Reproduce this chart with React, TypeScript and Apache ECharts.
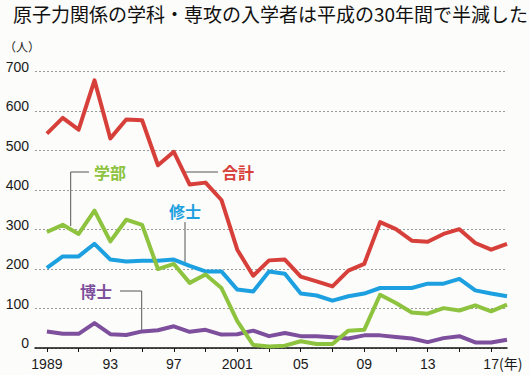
import React, { useEffect, useRef } from "react";
import * as echarts from "echarts";

const years = [1989, 1990, 1991, 1992, 1993, 1994, 1995, 1996, 1997, 1998, 1999, 2000, 2001, 2002, 2003, 2004, 2005, 2006, 2007, 2008, 2009, 2010, 2011, 2012, 2013, 2014, 2015, 2016, 2017, 2018];
const total = [543, 583, 553, 678, 531, 579, 577, 463, 497, 414, 419, 375, 249, 183, 222, 224, 181, 169, 156, 196, 213, 319, 301, 272, 269, 289, 301, 266, 249, 264];
const gakubu = [294, 312, 289, 348, 270, 325, 312, 200, 213, 165, 186, 152, 68, 8, 4, 6, 17, 10, 10, 44, 46, 135, 114, 90, 87, 101, 95, 108, 93, 110];
const shushi = [203, 232, 232, 264, 224, 219, 221, 221, 224, 208, 194, 194, 148, 143, 194, 188, 138, 133, 120, 131, 138, 152, 152, 152, 163, 163, 175, 146, 138, 131];
const hakushi = [42, 36, 36, 63, 35, 33, 42, 45, 55, 41, 46, 34, 35, 44, 30, 38, 30, 30, 27, 24, 32, 32, 28, 24, 15, 25, 30, 14, 14, 21];
const tickYears = [1989, 1991, 1993, 1995, 1997, 1999, 2001, 2003, 2005, 2007, 2009, 2011, 2013, 2015, 2017];
const labelYears = [1989, 1993, 1997, 2001, 2005, 2009, 2013, 2017];
const labelTexts = ["1989", "93", "97", "2001", "05", "09", "13", "17"];

const JP = "'Noto Sans CJK JP', 'Noto Sans', sans-serif";
const NUM = "'Liberation Sans', 'Noto Sans', sans-serif";

const RED = "#d7403a";
const GREEN = "#8dc33f";
const BLUE = "#1ca0e0";
const PURPLE = "#7e4f9c";
const LEADER = "#555555";

function pairs(vals: number[]) {
  return years.map((y, i) => [y, vals[i]]);
}

export default function App() {
  const ref = useRef<HTMLDivElement>(null);
  useEffect(() => {
    if (!ref.current) return;
    const chart = echarts.init(ref.current, null, { renderer: "svg" });
    const lineSeries = (name: string, vals: number[], color: string, z: number) => ({
      name,
      type: "line",
      data: pairs(vals),
      showSymbol: false,
      symbol: "none",
      z,
      lineStyle: { color, width: 4, join: "round" },
      itemStyle: { color },
    });
    chart.setOption({
      animation: false,
      backgroundColor: "#fcfcfa",
      grid: { left: 35, right: 23, top: 71.7, bottom: 27, containLabel: false },
      xAxis: {
        type: "value",
        min: 1988.25,
        max: 2018,
        axisLine: { show: true, onZero: false, lineStyle: { color: "#111", width: 1.5 } },
        axisTick: {
          show: true,
          customValues: tickYears,
          length: 4,
          inside: false,
          lineStyle: { color: "#111", width: 1 },
        },
        axisLabel: {
          customValues: labelYears,
          formatter: (v: number) => {
            const i = labelYears.indexOf(Math.round(v));
            return i >= 0 ? labelTexts[i] : "";
          },
          color: "#1a1a1a",
          fontFamily: NUM,
          fontSize: 14,
          margin: 9,
        },
        splitLine: { show: false },
      },
      yAxis: {
        type: "value",
        min: 0,
        max: 700,
        interval: 100,
        axisLine: { show: false },
        axisTick: { show: false },
        axisLabel: {
          color: "#1a1a1a",
          fontFamily: NUM,
          fontSize: 14,
          margin: 6,
          verticalAlign: "bottom",
          lineHeight: 10,
        },
        splitLine: { show: true, lineStyle: { color: "#9a9a9a", type: [2, 2], width: 1 } },
      },
      series: [
        lineSeries("博士", hakushi, PURPLE, 2),
        lineSeries("修士", shushi, BLUE, 3),
        lineSeries("学部", gakubu, GREEN, 4),
        lineSeries("合計", total, RED, 5),
      ],
      graphic: [
        {
          type: "text",
          left: 13,
          top: 4,
          style: {
            text: "原子力関係の学科・専攻の入学者は平成の30年間で半減した",
            font: `19px ${JP}`,
            fill: "#111",
          },
        },
        {
          type: "text",
          left: 4,
          top: 40,
          style: { text: "（人）", font: `12px ${JP}`, fill: "#222" },
        },
        {
          type: "text",
          left: 499,
          top: 356,
          style: { text: "(年)", font: `14px ${JP}`, fill: "#1a1a1a" },
        },
        // 学部
        { type: "polyline", shape: { points: [[89, 172], [70.7, 172], [70.7, 226]] }, style: { stroke: LEADER, lineWidth: 1, fill: null } },
        { type: "text", x: 110, y: 172, style: { text: "学部", font: `bold 16px ${JP}`, fill: GREEN, align: "center", verticalAlign: "middle" } },
        // 合計
        { type: "line", shape: { x1: 185, y1: 172, x2: 218, y2: 172 }, style: { stroke: LEADER, lineWidth: 1 } },
        { type: "text", x: 238, y: 172, style: { text: "合計", font: `bold 16px ${JP}`, fill: RED, align: "center", verticalAlign: "middle" } },
        // 修士
        { type: "line", shape: { x1: 185, y1: 222, x2: 185, y2: 262 }, style: { stroke: LEADER, lineWidth: 1 } },
        { type: "text", x: 185, y: 211, style: { text: "修士", font: `bold 16px ${JP}`, fill: BLUE, align: "center", verticalAlign: "middle" } },
        // 博士
        { type: "polyline", shape: { points: [[120, 291], [141.7, 291], [141.7, 330]] }, style: { stroke: LEADER, lineWidth: 1, fill: null } },
        { type: "text", x: 96, y: 291, style: { text: "博士", font: `bold 16px ${JP}`, fill: PURPLE, align: "center", verticalAlign: "middle" } },
      ],
    });
    return () => chart.dispose();
  }, []);
  return <div ref={ref} style={{ width: 530, height: 375, position: "absolute", left: 0, top: 0 }} />;
}
